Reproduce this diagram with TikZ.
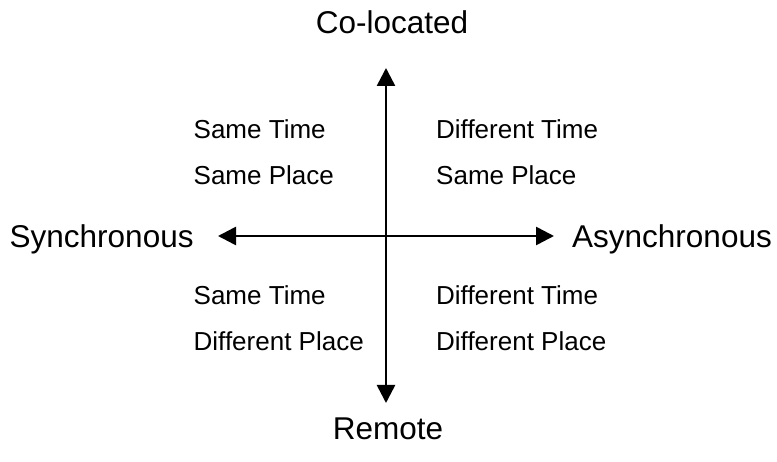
\documentclass[tikz,border=0pt]{standalone}
\usepackage{fontspec}
\setmainfont{Liberation Sans}
\usetikzlibrary{arrows.meta}
\begin{document}
\begin{tikzpicture}[x=1pt,y=-1pt,
  axis/.style={line width=2.6pt,{Triangle[length=18pt,width=18pt]}-{Triangle[length=18pt,width=18pt]}},
  pole/.style={inner sep=0pt,font=\fontsize{31.5}{37}\selectfont},
  cell/.style={inner sep=0pt,anchor=base west,font=\fontsize{26}{31}\selectfont}]
  \useasboundingbox (0,0) rectangle (777,462);
  \fill[white] (0,0) rectangle (777,462);

  % axis ends
  \coordinate (N) at (386,68);
  \coordinate (S) at (386,403);
  \coordinate (W) at (218,236);
  \coordinate (E) at (554,236);

  \draw[axis] (N) -- (S);
  \draw[axis] (W) -- (E);

  % pole labels
  \node[pole,anchor=base] (colo) at (392,34) {Co-located};
  \node[pole,anchor=base] (remote) at (388,439) {Remote};
  \node[pole,anchor=base west] (sync) at (9.5,248) {Synchronous};
  \node[pole,anchor=base west] (async) at (572,248) {Asynchronous};

  % quadrant labels
  \node[cell] (q1a) at (193.5,139) {Same Time};
  \node[cell] (q1b) at (193.5,185) {Same Place};
  \node[cell] (q2a) at (436,139) {Different Time};
  \node[cell] (q2b) at (436,185) {Same Place};
  \node[cell] (q3a) at (193.5,305) {Same Time};
  \node[cell] (q3b) at (193.5,351) {Different Place};
  \node[cell] (q4a) at (436,305) {Different Time};
  \node[cell] (q4b) at (436,351) {Different Place};
\end{tikzpicture}
\end{document}
